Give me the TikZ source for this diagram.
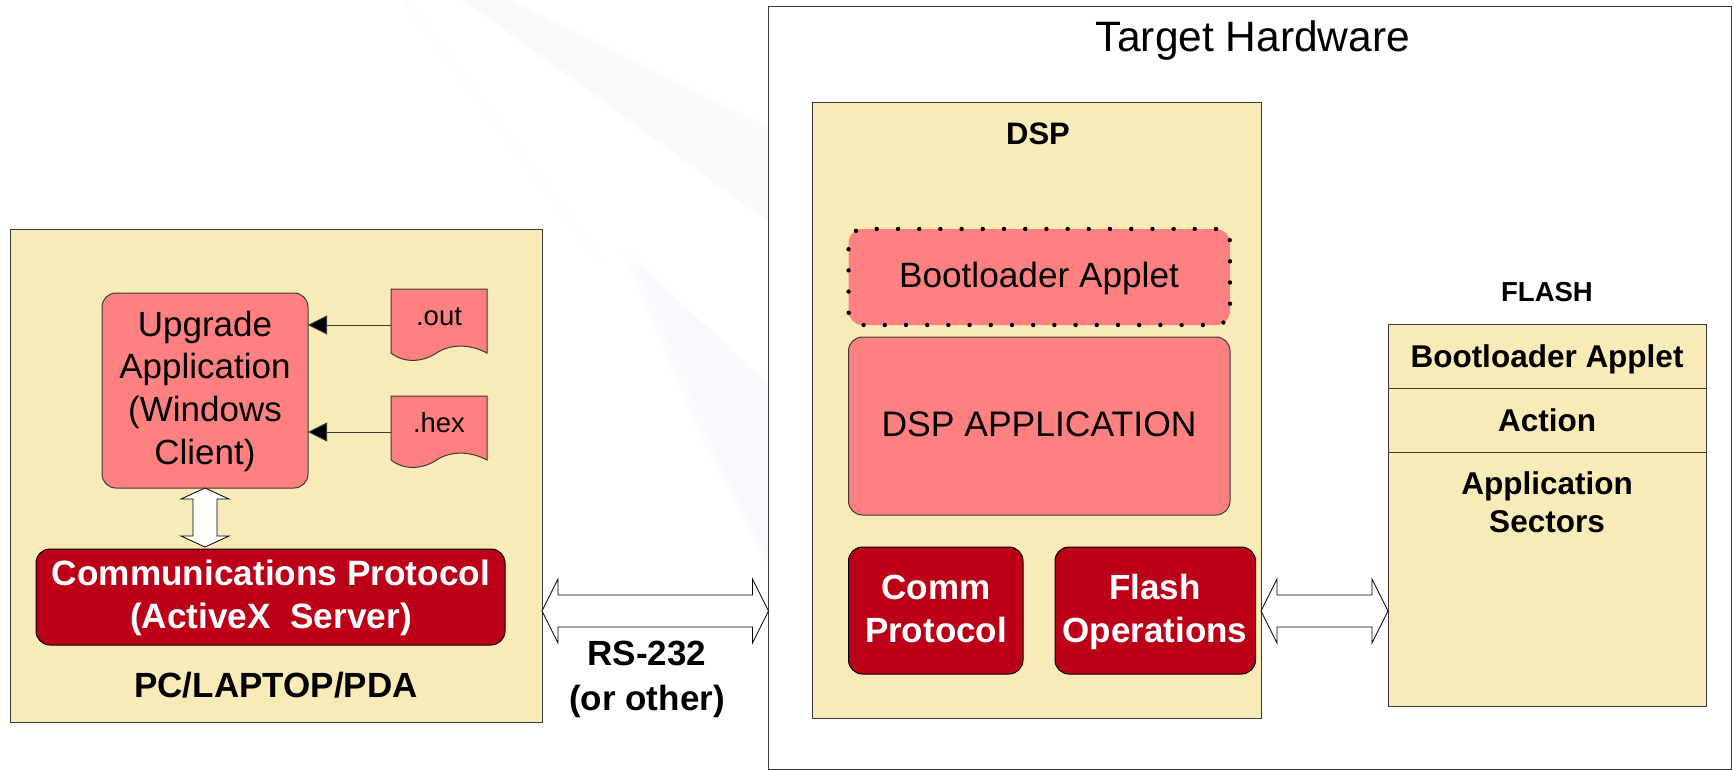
\documentclass[tikz,border=0pt]{standalone}
\usepackage{fontspec}
\setmainfont{Liberation Sans}
\usetikzlibrary{arrows.meta,calc}
\definecolor{cream}{HTML}{F9EBB7}
\definecolor{salmon}{HTML}{FF8080}
\definecolor{darkred}{HTML}{BC0018}
\definecolor{edge}{HTML}{3A3A3A}
\newcommand{\fsz}[2]{\fontsize{#1}{#2}\selectfont}
% \bx{name}{x0}{y0}{x1}{y1}{style}
\newcommand{\bx}[6]{%
  \node[#6,minimum width={(#4-#2)*1pt},minimum height={(#5-#3)*1pt}] (#1) at ({(#2+#4)/2},{(#3+#5)/2}) {};}
% horizontal block arrow between two coordinates
\newcommand{\hblock}[5]{%
  \draw[blockarrow] (#1) -- ($(#1)+(#4,-#5)$) -- ($(#1)+(#4,-#3)$) -- ($(#2)+(-#4,-#3)$) -- ($(#2)+(-#4,-#5)$) -- (#2)
    -- ($(#2)+(-#4,#5)$) -- ($(#2)+(-#4,#3)$) -- ($(#1)+(#4,#3)$) -- ($(#1)+(#4,#5)$) -- cycle;}
\newcommand{\vblock}[5]{%
  \draw[blockarrow] (#1) -- ($(#1)+(#5,#4)$) -- ($(#1)+(#3,#4)$) -- ($(#2)+(#3,-#4)$) -- ($(#2)+(#5,-#4)$) -- (#2)
    -- ($(#2)+(-#5,-#4)$) -- ($(#2)+(-#3,-#4)$) -- ($(#1)+(-#3,#4)$) -- ($(#1)+(-#5,#4)$) -- cycle;}
\tikzset{
  plain/.style={rectangle,draw=edge,line width=1pt,outer sep=0pt,inner sep=0pt},
  creambox/.style={plain,fill=cream},
  whitebox/.style={plain,fill=white},
  softbox/.style={plain,fill=salmon,rounded corners=14pt},
  dotbox/.style={rectangle,fill=salmon,rounded corners=14pt,outer sep=0pt,inner sep=0pt,draw=black,line width=4.4pt,line cap=round,dash pattern=on 0pt off 21.2pt},
  redbox/.style={plain,fill=darkred,rounded corners=14pt,draw=black},
  txt/.style={anchor=base,inner sep=0pt,outer sep=0pt,align=center,text=black},
  wtxt/.style={txt,text=white},
  blockarrow/.style={draw=black,fill=white,line width=.8pt,line join=miter},
  docshape/.style={draw=edge,fill=salmon,line width=1pt},
  feed/.style={draw=edge,line width=1pt,-{Triangle[length=19pt,width=19pt,fill=black]}},
  divider/.style={draw=edge,line width=1pt},
  ghost/.style={rectangle,inner sep=0pt,outer sep=0pt}
}
\begin{document}
\begin{tikzpicture}[x=1pt,y=-1pt]
\useasboundingbox (0,0) rectangle (1734,770);
% faint backdrop swoosh
\foreach \o/\s in {0/10,1/6,2/0}{
  \fill[color={rgb,255:red,238;green,232;blue,228},opacity=.12]
    (470-\s,0) -- (505+\s,0) -- (769,{135-\s}) -- (769,{215+\s}) -- cycle;
  \fill[color={rgb,255:red,232;green,224;blue,248},opacity=.08]
    ({630-\s},250) -- (769,{390-\s}) -- (769,{560+\s}) -- ({710-\s},440) -- cycle;
}
\draw[color={rgb,255:red,253;green,253;blue,253},line width=8pt] (405,0) -- (600,260);
% left panel
\bx{pc}{10}{229}{542}{722}{creambox}
\bx{upgrade}{102}{293}{308}{488}{softbox}
\bx{comm}{36}{549}{505}{645}{redbox}
\draw[docshape] (391,289) -- (487,289) -- (487,353) .. controls (470,344) and (452,344) .. (438,352) .. controls (424,362) and (405,364) .. (391,353) -- cycle;
\node[ghost,minimum width=96pt,minimum height=64pt] (outdoc) at (439,321) {};
\draw[docshape] (391,396) -- (487,396) -- (487,460) .. controls (470,451) and (452,451) .. (438,459) .. controls (424,469) and (405,471) .. (391,460) -- cycle;
\node[ghost,minimum width=96pt,minimum height=64pt] (hexdoc) at (439,428) {};
\node[txt,font=\fsz{35}{42.6}] (upgradetxt) at (205,464) {Upgrade\\Application\\(Windows\\Client)};
\node[wtxt,font=\fsz{35.2}{43}\bfseries] (commtxt) at (271,628) {Communications Protocol\\(ActiveX\ \ Server)};
\node[txt,font=\fsz{35}{42}\bfseries] (pctxt) at (276,697) {PC/LAPTOP/PDA};
\node[txt,font=\fsz{27.5}{33}] (outtxt) at (439,325) {.out};
\node[txt,font=\fsz{27.5}{33}] (hextxt) at (439,432) {.hex};
\draw[feed] (outdoc.west |- 0,325) -- (upgrade.east |- 0,325);
\draw[feed] (hexdoc.west |- 0,432) -- (upgrade.east |- 0,432);
\coordinate (vtop) at (upgrade.south);
\coordinate (vbot) at ($(comm.north -| upgrade.south)+(0,-2)$);
\vblock{vtop}{vbot}{12}{11}{24}
% target hardware
\bx{target}{768.5}{7}{1731}{769}{whitebox}
\node[txt,font=\fsz{42.5}{50}] (targettxt) at (1253,52) {Target Hardware};
\bx{dsp}{812}{103}{1261}{718}{creambox}
\node[txt,font=\fsz{31}{34}\bfseries] (dsptxt) at (1038,145) {DSP};
\bx{boot}{848.5}{229}{1230}{325}{dotbox}
\node[txt,font=\fsz{35.2}{42}] (boottxt) at (1039,287) {Bootloader Applet};
\bx{app}{848.5}{337}{1230}{515}{softbox}
\node[txt,font=\fsz{35.5}{42}] (apptxt) at (1039,436) {DSP APPLICATION};
\bx{cprot}{848.5}{547}{1023}{674}{redbox}
\node[wtxt,font=\fsz{35}{43}\bfseries] (cprottxt) at (936,642) {Comm\\Protocol};
\bx{flashop}{1055}{547}{1255.5}{674}{redbox}
\node[wtxt,font=\fsz{35}{43}\bfseries] (flashoptxt) at (1155,642) {Flash\\Operations};
% flash memory
\bx{flash}{1388}{324}{1706}{706}{creambox}
\node[txt,font=\fsz{27.5}{33}\bfseries] (flashlbl) at (1547,301) {FLASH};
\draw[divider] (flash.west |- 0,388) -- (flash.east |- 0,388);
\draw[divider] (flash.west |- 0,452) -- (flash.east |- 0,452);
\node[txt,font=\fsz{31.5}{38}\bfseries] (flboot) at (1547,367) {Bootloader Applet};
\node[txt,font=\fsz{31.5}{38}\bfseries] (flact) at (1547,431) {Action};
\node[txt,font=\fsz{31.5}{38}\bfseries] (flsec) at (1547,532) {Application\\Sectors};
% block connectors
\coordinate (rsL) at (pc.east |- 0,611);
\coordinate (rsR) at (target.west |- 0,611);
\hblock{rsL}{rsR}{16}{16}{32}
\coordinate (flL) at (dsp.east |- 0,611);
\coordinate (flR) at (flash.west |- 0,611);
\hblock{flL}{flR}{16}{16}{32}
\node[txt,font=\fsz{35}{45}\bfseries] (rstxt) at (647,710) {RS-232\\(or other)};
\end{tikzpicture}
\end{document}
